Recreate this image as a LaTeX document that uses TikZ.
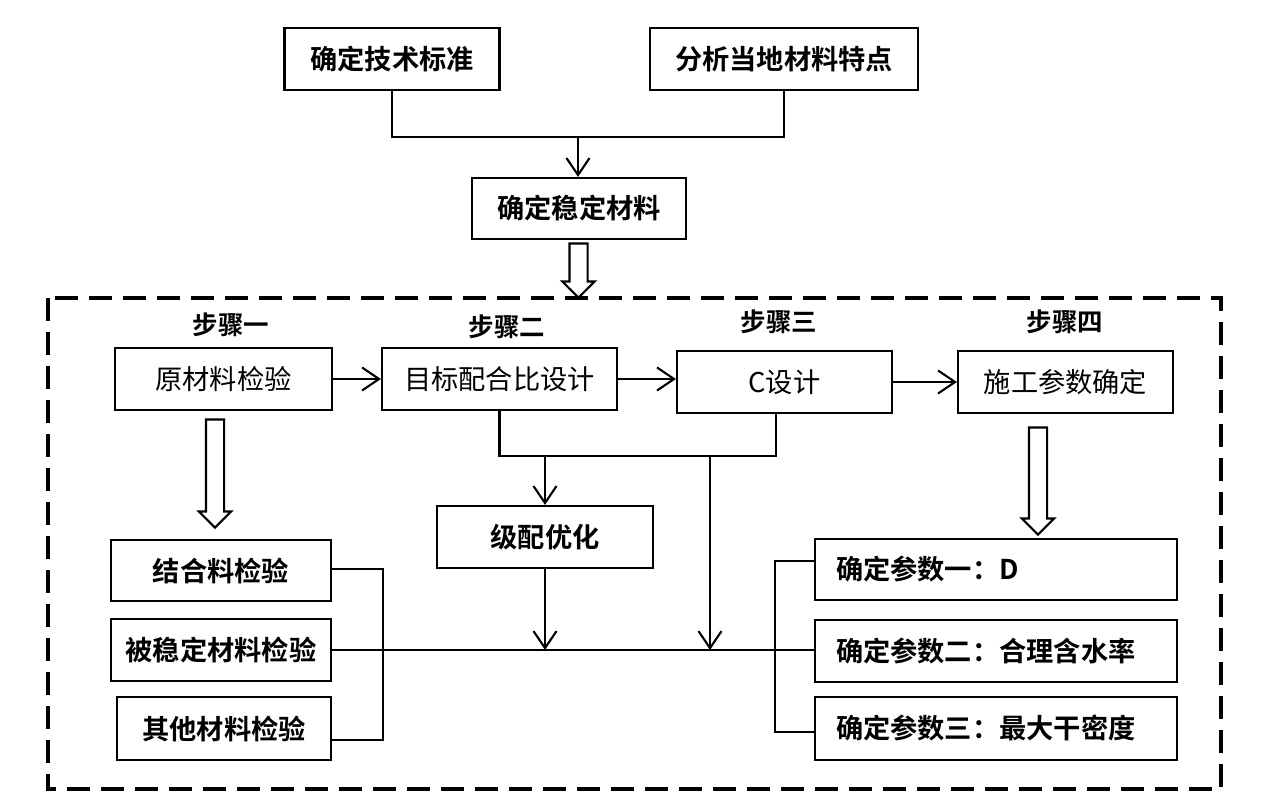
\documentclass[tikz,border=0pt]{standalone}
\usepackage{fontspec}
\setmainfont{Noto Sans CJK SC}[BoldFont={Noto Sans CJK SC Bold}]
\usepackage{tikz}
\usetikzlibrary{arrows.meta, shapes.arrows, positioning, calc}

\begin{document}
\begin{tikzpicture}[>={Straight Barb[length=3.4mm, width=4.6mm]}, line width=1.2pt,
    box/.style={draw, rectangle, minimum height=1.24cm, align=center, inner sep=2pt, font=\fontsize{15.5}{18}\selectfont\bfseries},
    stepbox/.style={box, font=\fontsize{15.5}{18}\selectfont},
    param/.style={box, minimum width=7.24cm, text width=6.4cm, align=left},
    tag/.style={font=\fontsize{14.5}{17}\selectfont\bfseries},
    hollow/.style={draw, single arrow, rotate=-90, inner xsep=0pt, inner ysep=0.16cm, single arrow head extend=0.14cm}]

\useasboundingbox (0,0) rectangle (25.26,-16.12);

% inputs
\node[box, minimum width=4.30cm] (std) at (7.84,-1.18) {确定技术标准};
\node[box, minimum width=5.36cm] (loc) at (15.68,-1.18) {分析当地材料特点};
\node[box, minimum width=4.28cm, minimum height=1.22cm] (mat) at (11.58,-4.17) {确定稳定材料};

\coordinate (join) at (11.56,-2.74);
\draw (std.south) |- (join) -| (loc.south);
\draw[->] (join) -- (join |- mat.north);

\node[hollow, minimum height=1.08cm] (into) at (11.57,-5.32) {};

% dashed zone
\draw[line width=2pt, dash pattern=on 0.46cm off 0.22cm] (0.96,-5.96) rectangle (24.42,-15.78);

% steps
\node[tag] (s1) at (4.62,-6.50) {步骤一};
\node[tag] (s2) at (10.14,-6.54) {步骤二};
\node[tag] (s3) at (15.58,-6.44) {步骤三};
\node[tag] (s4) at (21.30,-6.44) {步骤四};

\node[stepbox, minimum width=4.34cm] (raw) at (4.47,-7.58) {原材料检验};
\node[stepbox, minimum width=4.70cm] (tgt) at (9.99,-7.58) {目标配合比设计};
\node[stepbox, minimum width=4.30cm] (cdes) at (15.69,-7.64) {C设计};
\node[stepbox, minimum width=4.30cm] (cons) at (21.31,-7.64) {施工参数确定};

\draw[->] (raw) -- (tgt);
\draw[->] (tgt.east) -- (tgt.east -| cdes.west);
\draw[->] (cdes) -- (cons);

\node[hollow, minimum height=2.16cm] (down1) at (4.30,-9.38) {};
\node[hollow, minimum height=2.14cm] (down4) at (20.76,-9.53) {};

% gradation branch
\node[box, minimum width=4.32cm] (grad) at (10.90,-10.74) {级配优化};

\coordinate (busR) at (15.52,-9.12);
\coordinate (tap) at (14.20,-9.12);
\draw (tgt.south) |- (busR) -- (busR |- cdes.south);
\draw[->] (grad.north |- busR) -- (grad.north);

% material checks
\node[box, minimum width=4.40cm, minimum height=1.22cm] (bind) at (4.42,-11.41) {结合料检验};
\node[box, minimum width=4.40cm] (stab) at (4.42,-13.00) {被稳定材料检验};
\node[box, minimum width=4.28cm, minimum height=1.26cm] (oth) at (4.48,-14.57) {其他材料检验};

% parameters
\node[param, minimum height=1.22cm] (p1) at (19.92,-11.39) {确定参数一：D};
\node[param] (p2) at (19.92,-13.02) {确定参数二：合理含水率};
\node[param, minimum height=1.26cm] (p3) at (19.92,-14.57) {确定参数三：最大干密度};

\draw (stab.east) -- (stab.east -| p2.west);
\draw[->] (grad.south) -- (grad.south |- stab.east);
\draw[->] (tap) -- (tap |- stab.east);

\coordinate (lbrT) at (7.66,-11.38);
\coordinate (lbrB) at (7.66,-14.80);
\draw (bind.east |- lbrT) -- (lbrT) -- (lbrB) -- (oth.east |- lbrB);

\coordinate (rbrT) at (15.50,-11.22);
\coordinate (rbrB) at (15.50,-14.64);
\draw (p1.west |- rbrT) -- (rbrT) -- (rbrB) -- (p3.west |- rbrB);
\end{tikzpicture}
\end{document}
